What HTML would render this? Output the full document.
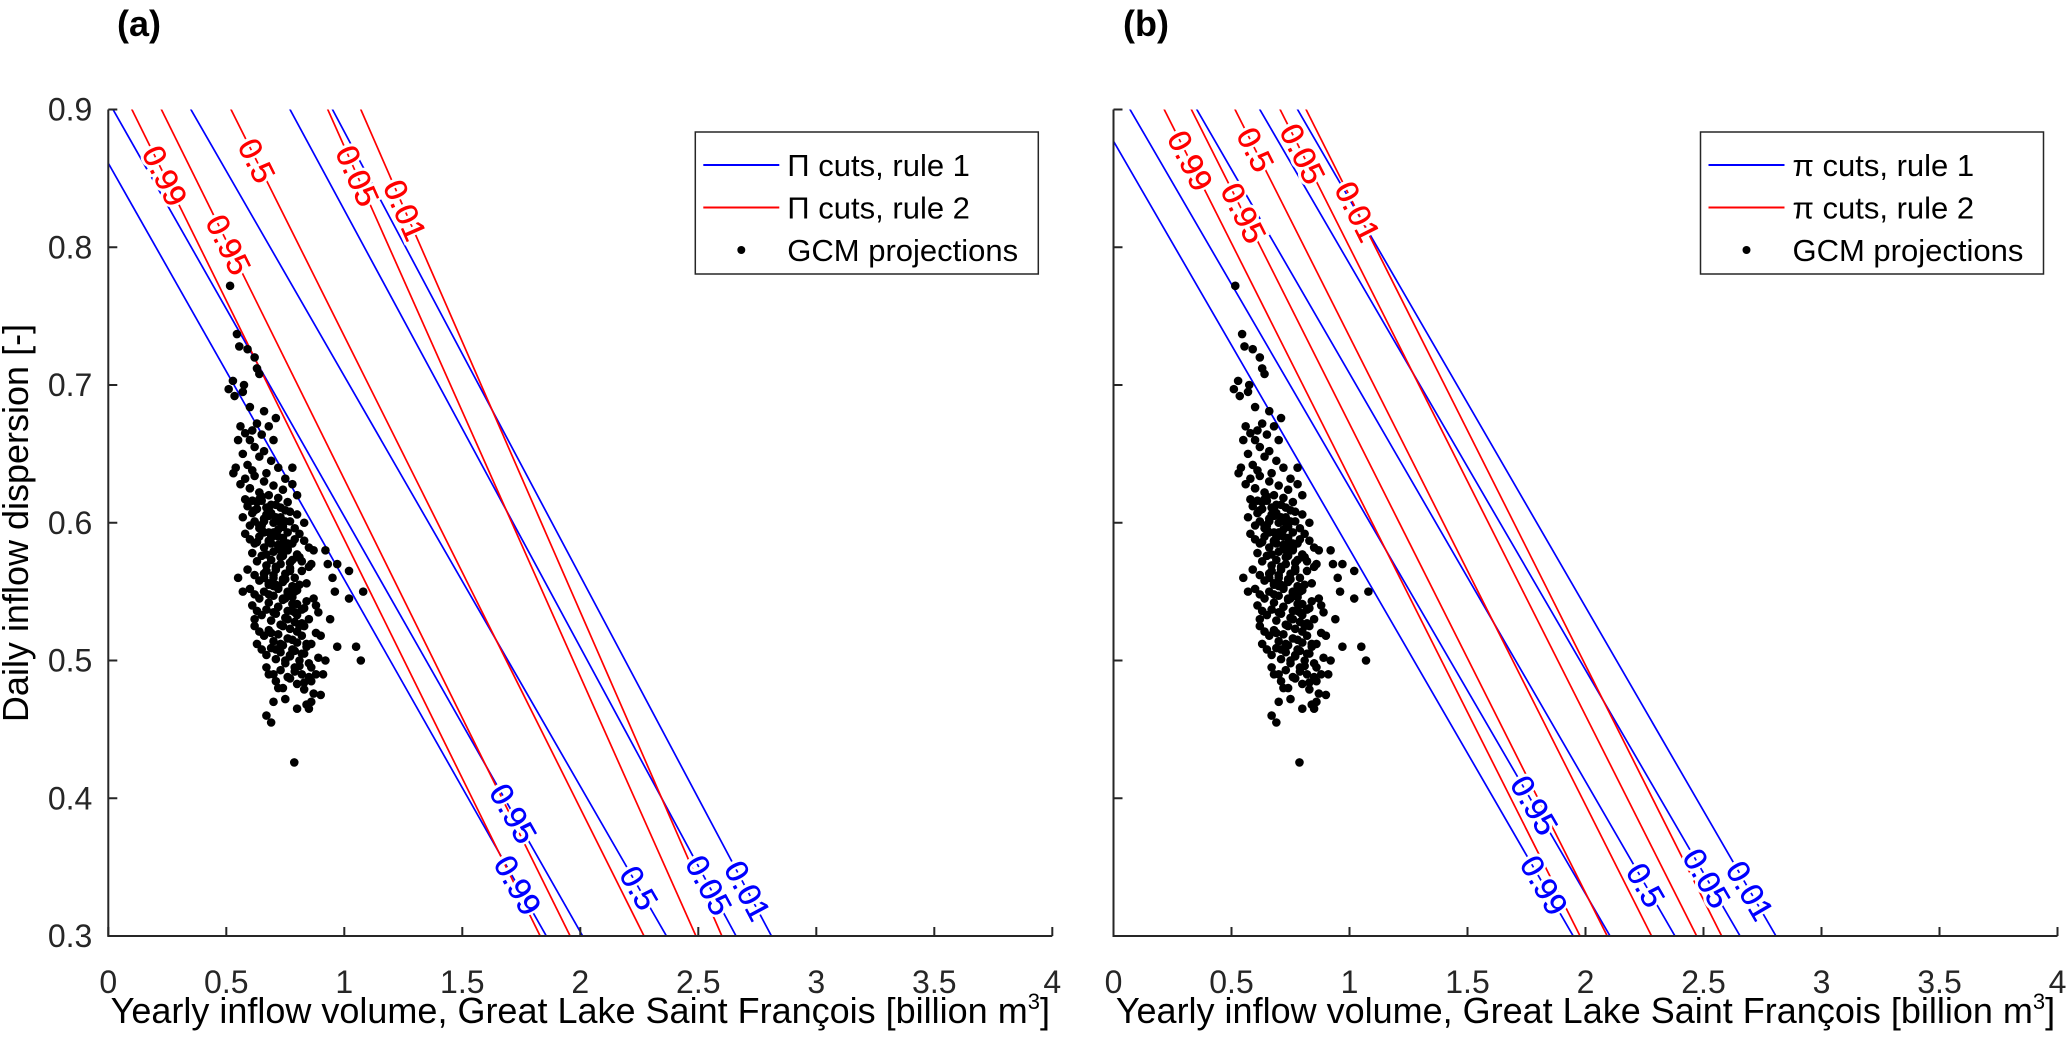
<!DOCTYPE html>
<html><head><meta charset="utf-8"><style>
html,body{margin:0;padding:0;background:#fff;overflow:hidden;width:2067px;height:1057px;}
svg{display:block;}
text{font-family:"Liberation Sans",Arial,sans-serif;}
</style></head><body>
<svg id="chart" width="2067" height="1057" viewBox="0 0 2067 1057" xmlns="http://www.w3.org/2000/svg"></svg>
<script>
// ---- data ----
const levels = ["0.99","0.95","0.5","0.05","0.01"];
const aBlueX1 = [0, 0.02, 0.35, 0.77, 0.95];
const aBlueY1 = [0.861, 0.9, 0.9, 0.9, 0.9];
const aBlueX2 = [1.856, 2.01, 2.365, 2.66, 2.81];
const aRedX1 = [0.10, 0.225, 0.52, 0.93, 1.07];
const aRedX2 = [1.83, 1.957, 2.27, 2.49, 2.60];
const bBlueX1 = [0, 0.07, 0.353, 0.62, 0.78];
const bBlueY1 = [0.877, 0.9, 0.9, 0.9, 0.9];
const bBlueX2 = [1.948, 2.104, 2.379, 2.655, 2.807];
const bRedX1 = [0.215, 0.33, 0.515, 0.706, 0.816];
const bRedX2 = [1.977, 2.092, 2.28, 2.471, 2.577];
const aRedLabelY = [0.852, 0.802, 0.863, 0.852, 0.827];
const aBlueLabelY = [0.337, 0.389, 0.335, 0.337, 0.333];
const bRedLabelY = [0.863, 0.825, 0.871, 0.868, 0.826];
const bBlueLabelY = [0.337, 0.395, 0.337, 0.342, 0.333];
const xTicks = [0,0.5,1,1.5,2,2.5,3,3.5,4];
const xTickLabels = ["0","0.5","1","1.5","2","2.5","3","3.5","4"];
const yTicks = [0.3,0.4,0.5,0.6,0.7,0.8,0.9];
const yTickLabels = ["0.3","0.4","0.5","0.6","0.7","0.8","0.9"];
const gcmX = [0.516,0.545,0.555,0.59,0.62,0.63,0.64,0.528,0.51,0.535,0.575,0.57,0.60,0.66,0.71,
0.56,0.58,0.61,0.63,0.55,0.60,0.62,0.65,0.68,0.70,0.57,0.64,0.66,0.69,0.72,0.59,0.54,0.53,0.61,0.67,0.75,0.78,
0.56,0.58,0.60,0.62,0.64,0.66,0.68,0.70,0.72,0.74,0.76,0.59,0.61,0.63,0.65,0.67,0.69,0.71,0.73,0.75,0.77,0.80,0.83,0.57,0.60,0.62,0.64,0.66,0.68,0.70,0.72,0.74,0.79,0.85,
0.58,0.60,0.62,0.64,0.66,0.68,0.70,0.72,0.74,0.76,0.78,0.81,0.61,0.63,0.65,0.67,0.69,0.71,0.73,0.75,0.77,0.79,0.82,0.86,0.59,0.62,0.64,0.66,0.68,0.70,0.72,0.74,0.76,0.78,0.80,0.84,
0.60,0.62,0.64,0.66,0.68,0.70,0.72,0.74,0.76,0.78,0.80,0.83,0.87,0.61,0.63,0.65,0.67,0.69,0.71,0.73,0.75,0.77,0.79,0.81,0.85,0.89,0.55,0.57,0.97,1.02,1.08,1.02,
0.62,0.64,0.66,0.68,0.70,0.72,0.74,0.76,0.78,0.80,0.82,0.84,0.88,0.63,0.65,0.67,0.69,0.71,0.73,0.75,0.77,0.79,0.81,0.83,0.86,0.90,0.64,0.66,0.68,0.70,0.72,0.74,0.76,0.78,0.80,0.82,0.85,0.92,0.95,
0.65,0.67,0.69,0.71,0.73,0.75,0.77,0.79,0.81,0.83,0.87,0.93,0.66,0.68,0.70,0.72,0.74,0.76,0.78,0.80,0.82,0.84,0.88,0.96,0.62,
0.67,0.70,0.73,0.76,0.79,0.82,0.85,0.89,0.94,1.05,1.07,0.71,0.74,0.77,0.80,0.83,0.86,0.91,0.97,
0.68,0.72,0.75,0.80,0.84,0.88,0.90,0.92,0.70,0.85,0.67,0.69,0.86,0.788,0.80,0.78,
0.65,0.69,0.73,0.77,0.81,0.67,0.71,0.75,0.79,0.83,0.63,0.68,0.72,0.76,0.80,0.70,0.74,0.78,0.82,0.86,
0.61,0.65,0.69,0.73,0.77,0.63,0.67,0.71,0.75,0.79,0.66,0.70,0.74,0.78,0.82,0.68,0.72,0.76,0.80,0.84,
0.58,0.62,0.66,0.70,0.74,0.60,0.64,0.68,0.72,0.76,0.69,0.73,0.77,0.81,0.85,0.71,0.75,0.79,0.83,0.87];
const gcmY = [0.772,0.737,0.728,0.726,0.72,0.712,0.708,0.703,0.697,0.692,0.70,0.695,0.684,0.681,0.676,
0.67,0.665,0.667,0.672,0.66,0.66,0.655,0.664,0.67,0.66,0.65,0.648,0.652,0.645,0.64,0.642,0.64,0.636,0.638,0.636,0.632,0.628,
0.628,0.632,0.625,0.634,0.622,0.630,0.620,0.627,0.618,0.624,0.615,0.612,0.616,0.610,0.619,0.606,0.613,0.604,0.611,0.601,0.608,0.606,0.600,0.604,0.598,0.601,0.596,0.603,0.593,0.600,0.590,0.597,0.588,0.582,
0.592,0.588,0.585,0.590,0.582,0.587,0.579,0.584,0.576,0.581,0.573,0.575,0.578,0.572,0.576,0.569,0.573,0.566,0.570,0.563,0.567,0.560,0.565,0.570,0.566,0.562,0.558,0.563,0.555,0.560,0.552,0.557,0.549,0.554,0.551,0.556,
0.552,0.548,0.545,0.550,0.542,0.547,0.539,0.544,0.536,0.541,0.533,0.538,0.545,0.540,0.536,0.533,0.537,0.529,0.534,0.526,0.531,0.523,0.528,0.525,0.530,0.535,0.56,0.55,0.57,0.565,0.55,0.545,
0.525,0.521,0.518,0.522,0.514,0.519,0.511,0.516,0.508,0.513,0.518,0.510,0.520,0.512,0.508,0.504,0.509,0.501,0.506,0.498,0.503,0.507,0.500,0.505,0.512,0.518,0.598,0.593,0.586,0.591,0.583,0.589,0.580,0.585,0.577,0.572,0.568,0.58,0.56,
0.616,0.611,0.607,0.613,0.604,0.609,0.601,0.596,0.592,0.587,0.58,0.57,0.560,0.556,0.562,0.553,0.559,0.550,0.546,0.541,0.537,0.543,0.54,0.55,0.53,
0.495,0.49,0.493,0.488,0.495,0.49,0.498,0.502,0.53,0.51,0.50,0.485,0.48,0.487,0.483,0.479,0.485,0.49,0.51,
0.49,0.48,0.472,0.465,0.468,0.49,0.475,0.50,0.47,0.465,0.46,0.455,0.47,0.426,0.62,0.64,
0.595,0.585,0.575,0.565,0.555,0.565,0.555,0.545,0.535,0.525,0.615,0.605,0.595,0.585,0.575,0.535,0.525,0.515,0.505,0.495,
0.607,0.598,0.589,0.580,0.571,0.586,0.577,0.568,0.559,0.550,0.563,0.554,0.545,0.536,0.527,0.548,0.539,0.530,0.521,0.512,
0.617,0.609,0.601,0.593,0.585,0.625,0.617,0.609,0.601,0.593,0.520,0.512,0.504,0.496,0.488,0.508,0.500,0.492,0.484,0.476];

// ---- layout ----
const NS = "http://www.w3.org/2000/svg";
const svg = document.getElementById("chart");
const Y0 = 109.5, Y1 = 936, SX = 236;
function mk(tag, attrs, parent){ const e=document.createElementNS(NS,tag); for(const k in attrs) e.setAttribute(k,attrs[k]); (parent||svg).appendChild(e); return e; }
const yScale = v => Y0 + (0.9 - v) / 0.6 * (Y1 - Y0);

function panel(id, x0, blueX1, blueY1, blueX2, redX1, redX2, redLabY, blueLabY, symbol, showYLabels, title, titleX){
  const xScale = v => x0 + v * SX;
  const g = mk("g", {});
  
  
  const cp = mk("clipPath", {id: "clip-" + id}, g);
  mk("rect", {x: x0, y: Y0, width: 4*SX, height: Y1 - Y0}, cp);
  const plot = mk("g", {"clip-path": "url(#clip-" + id + ")"}, g);
  
  

  function drawLines(X1, Ya, X2, labY, color, kind){
    for (let i = 0; i < X1.length; i++){
      const ya = Ya ? Ya[i] : 0.9;
      const px1 = xScale(X1[i]), py1 = yScale(ya), px2 = xScale(X2[i]), py2 = yScale(0.3);
      const ex = (px2 - px1), ey = (py2 - py1);
      const ln = mk("line", {x1: px1 - ex, y1: py1 - ey, x2: px2 + ex, y2: py2 + ey, stroke: color, "stroke-width": 1.7}, plot);
      
      
      const t = (yScale(labY[i]) - py1) / ey;
      const lx = px1 + t * ex, ly = py1 + t * ey;
      const ang = Math.atan2(ey, ex) * 180 / Math.PI;
      const tx = mk("text", {x: lx, y: ly, fill: color, "font-size": 32, "text-anchor": "middle", "dominant-baseline": "central",
        stroke: "#fff", "stroke-width": 6, "paint-order": "stroke", transform: "rotate(" + ang + " " + lx + " " + ly + ")"}, g);
      tx.textContent = levels[i];
      
      
      const tx2 = mk("text", {x: lx + 0.6, y: ly, fill: color, "font-size": 32, "text-anchor": "middle", "dominant-baseline": "central",
        transform: "rotate(" + ang + " " + lx + " " + ly + ")"}, g);
      tx2.textContent = levels[i];
      
      
    }
  }
  drawLines(blueX1, blueY1, blueX2, blueLabY, "#0000ff", "blue");
  drawLines(redX1, null, redX2, redLabY, "#ff0000", "red");

  for (let i = 0; i < gcmX.length; i++){
    const c = mk("circle", {cx: xScale(gcmX[i]), cy: yScale(gcmY[i]), r: 4.3, fill: "#000"}, plot);
    
    
  }
  const ax = mk("path", {d: "M" + x0 + " " + Y0 + " V" + Y1 + " H" + xScale(4), stroke: "#262626", "stroke-width": 2, fill: "none"}, g);
  
  
  xTicks.forEach((v, i) => {
    const x = xScale(v);
    mk("line", {x1: x, y1: Y1, x2: x, y2: Y1 - 9, stroke: "#262626", "stroke-width": 2}, g);
    const t = mk("text", {x: x, y: 993, "font-size": 32, fill: "#262626", "text-anchor": "middle"}, g);
    t.textContent = xTickLabels[i];
    
    
  });
  yTicks.forEach((v, i) => {
    const y = yScale(v);
    mk("line", {x1: x0, y1: y, x2: x0 + 9, y2: y, stroke: "#262626", "stroke-width": 2}, g);
    if (showYLabels){
      const t = mk("text", {x: x0 - 16, y: y + 11, "font-size": 32, fill: "#262626", "text-anchor": "end"}, g);
      t.textContent = yTickLabels[i];
      
      
    }
  });
  const xt = mk("text", {x: x0 + 2*SX, y: 1023, "font-size": 36, fill: "#000", "text-anchor": "middle"}, g);
  xt.innerHTML = 'Yearly inflow volume, Great Lake Saint François [billion m<tspan font-size="22" dy="-14">3</tspan><tspan dy="14">]</tspan>';
  
  
  const tt = mk("text", {x: titleX, y: 36, "font-size": 36, "font-weight": "bold", fill: "#000", "text-anchor": "middle"}, g);
  tt.textContent = title;
  
  
  const lx = x0 + 587, ly = 132;
  const lg = mk("g", {}, g);
  
  
  mk("rect", {x: lx, y: ly, width: 343, height: 142, fill: "#fff", stroke: "#262626", "stroke-width": 1.5}, lg);
  const entries = [[symbol + " cuts, rule 1", "#0000ff", "line"], [symbol + " cuts, rule 2", "#ff0000", "line"], ["GCM projections", "#000", "dot"]];
  entries.forEach((e, i) => {
    const ey = ly + 33 + i * 42.5;
    if (e[2] === "line") mk("line", {x1: lx + 8, y1: ey, x2: lx + 84, y2: ey, stroke: e[1], "stroke-width": 2}, lg);
    else mk("circle", {cx: lx + 46, cy: ey, r: 4, fill: "#000"}, lg);
    const t = mk("text", {x: lx + 92, y: ey + 11, "font-size": 31, fill: "#000"}, lg);
    t.textContent = e[0];
    
    
  });
}

panel("a", 108.3, aBlueX1, aBlueY1, aBlueX2, aRedX1, aRedX2, aRedLabelY, aBlueLabelY, "Π", true, "(a)", 139);
panel("b", 1113.5, bBlueX1, bBlueY1, bBlueX2, bRedX1, bRedX2, bRedLabelY, bBlueLabelY, "π", false, "(b)", 1146);

const yl = mk("text", {x: 28, y: 523, "font-size": 36, fill: "#000", "text-anchor": "middle", transform: "rotate(-90 28 523)"});
yl.textContent = "Daily inflow dispersion [-]";


</script>
</body></html>
